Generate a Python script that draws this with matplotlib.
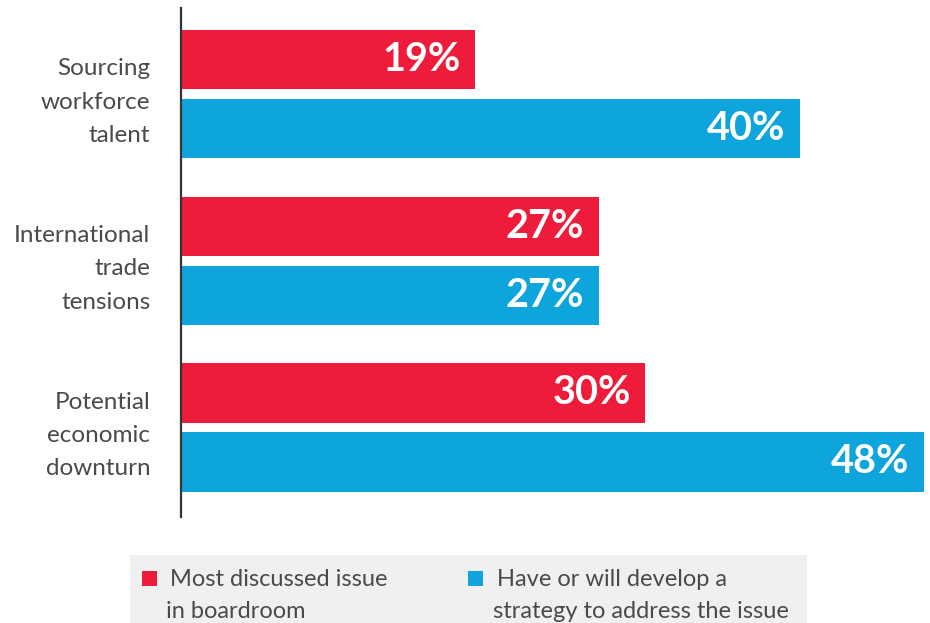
import matplotlib
matplotlib.use("Agg")
import matplotlib.pyplot as plt
from matplotlib.patches import Rectangle

issues = ["Sourcing\nworkforce\ntalent", "International\ntrade\ntensions", "Potential\neconomic\ndownturn"]
discussed = [19, 27, 30]
strategy = [40, 27, 48]
legend_labels = ["Most discussed issue\nin boardroom", "Have or will develop a\nstrategy to address the issue"]

RED = "#ee1c3a"
BLUE = "#0ea5dd"
GREY_TEXT = "#4a4a4a"

plt.rcParams["font.family"] = ["Lato", "DejaVu Sans"]

W, H = 930, 623
fig = plt.figure(figsize=(W / 100, H / 100), dpi=100)

# axes box in pixel terms: vertical spine at x=181, bars run to x=924 for 48%
left, right = 181, 924
top, bottom = 8, 517
ax = fig.add_axes([left / W, 1 - bottom / H, (right - left) / W, (bottom - top) / H])

ypos = list(range(len(issues)))
bar_h = 0.355
off = 0.207
ax.barh([y - off for y in ypos], discussed, height=bar_h, color=RED, edgecolor="none")
ax.barh([y + off for y in ypos], strategy, height=bar_h, color=BLUE, edgecolor="none")

for vals, shift in [(discussed, -off), (strategy, off)]:
    for y, v in zip(ypos, vals):
        ax.annotate(f"{v}%", (v, y + shift), xytext=(-10.5, 0), textcoords="offset points",
                    ha="right", va="center", color="white", fontsize=28.5, fontweight="bold")

ax.set_xlim(0, 48)
ax.set_ylim(2.537, -0.516)
ax.set_yticks(ypos)
ax.set_yticklabels(issues, fontsize=17.5, color=GREY_TEXT, linespacing=1.72)
ax.tick_params(axis="y", length=0, pad=22)
ax.set_xticks([])
for s in ["top", "right", "bottom"]:
    ax.spines[s].set_visible(False)
ax.spines["left"].set_color("#333333")
ax.spines["left"].set_linewidth(1.6)

# legend panel
fig.patches.append(Rectangle((130 / W, 0), (807 - 130) / W, (H - 555) / H,
                             transform=fig.transFigure, facecolor="#eff0f0",
                             edgecolor="none", zorder=0))
for (sx, tx), col, lab in zip([(142, 170), (468, 497)], [RED, BLUE], legend_labels):
    fig.patches.append(Rectangle((sx / W, 1 - 586 / H), 15 / W, 15 / H,
                                 transform=fig.transFigure, facecolor=col,
                                 edgecolor="none", zorder=1))
    lines = lab.split("\n")
    fig.text(tx / W, 1 - 586 / H, lines[0], fontsize=17, color=GREY_TEXT,
             va="baseline", ha="left")
    fig.text((tx - 4) / W, 1 - 618 / H, lines[1], fontsize=17, color=GREY_TEXT,
             va="baseline", ha="left")

fig.savefig("out.png", dpi=100)
